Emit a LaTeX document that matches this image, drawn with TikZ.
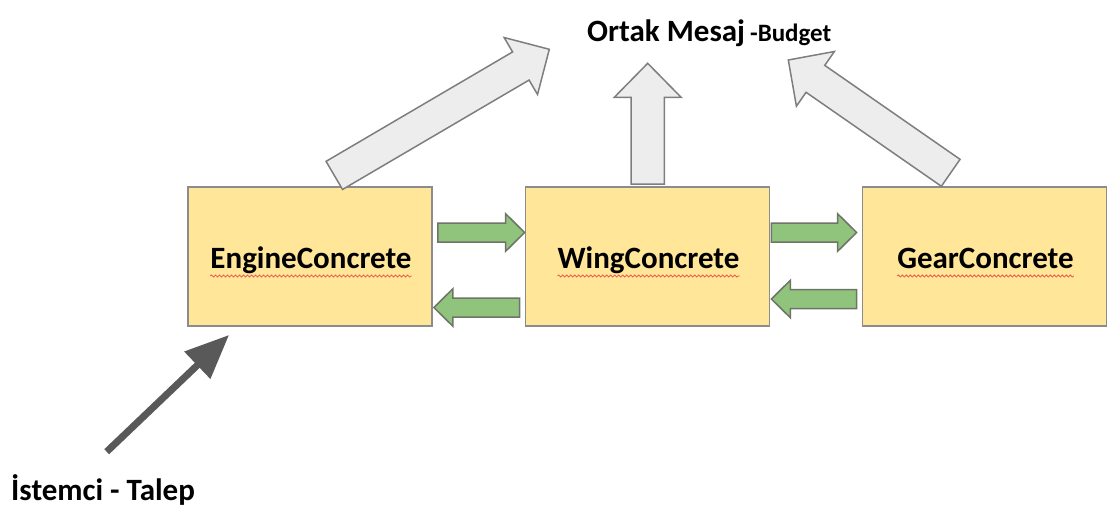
\documentclass[tikz,border=0pt]{standalone}
\usepackage{fontspec}
\setmainfont{Carlito}
\usetikzlibrary{arrows.meta,calc,decorations.pathmorphing}
\definecolor{Gold}{HTML}{FFE699}
\definecolor{Frame}{HTML}{8C8C8C}
\definecolor{Leaf}{HTML}{90C47C}
\definecolor{LeafDark}{HTML}{6E7468}
\definecolor{Mist}{HTML}{EDEDED}
\definecolor{Slate}{HTML}{595959}
\definecolor{Wave}{HTML}{E8413C}
\tikzset{unit/.style={draw=Frame,fill=Gold,line width=1.8pt,minimum width=244pt,minimum height=139pt,inner sep=0pt},unitlabel/.style={font=\fontsize{31}{37}\selectfont\bfseries,inner sep=0pt,anchor=base},heading/.style={font=\fontsize{31}{37}\selectfont\bfseries,inner sep=0pt,anchor=base west},shared/.style={draw=Frame!90!black,fill=Mist,line width=1.5pt},pass/.style={draw=LeafDark,fill=Leaf,line width=1.5pt},request/.style={draw=Slate,line width=7pt,-{Triangle[length=44pt,width=36pt]}},typo/.style={draw=Wave,line width=.6pt,decorate,decoration={snake,amplitude=1.1pt,segment length=4pt}}}
% block arrow: [style]{tail}{tip}{half shaft}{half head}{head length}
\newcommand{\blockarrow}[6][]{%
  \coordinate (hb) at ($(#3)!#6!(#2)$);
  \draw[#1]($(#2)!#4!90:(#3)$)--($(hb)!#4!90:(#3)$)--($(hb)!#5!90:(#3)$)--(#3)--($(hb)!#5!-90:(#3)$)--($(hb)!#4!-90:(#3)$)--($(#2)!#4!-90:(#3)$)--cycle;}
\begin{document}
\begin{tikzpicture}[x=1pt,y=-1pt]
  \useasboundingbox (0,0) rectangle (1115,515);
  \node[unit](engine) at (310,256.5){};
  \node[unit](wing) at (647.5,256.5){};
  \node[unit](gear) at (984.5,256.5){};
  \foreach \b/\t in {engine/EngineConcrete,wing/WingConcrete,gear/GearConcrete}{
    \node[unitlabel](\b-label) at ($(\b.center)+(1,11.5)$){\t};
    \draw[typo]([yshift=-8pt]\b-label.base west)--([yshift=-8pt]\b-label.base east);}
  \node[heading](message) at (587,41.5){Ortak Mesaj\hspace{5pt}{\fontsize{25}{30}\selectfont -Budget}};
  \node[heading](client) at (11,500){İstemci - Talep};
  % up to the shared message
  \coordinate(engine-up) at ($(engine.north)+(24.3,-10.7)$);
  \coordinate(wing-up) at ($(wing.north)+(0.2,-2)$);
  \coordinate(gear-up) at ($(gear.north)+(-33.8,-13.3)$);
  \coordinate(msg-left) at (549.3,49.3);
  \coordinate(msg-mid) at (647.7,63.3);
  \coordinate(msg-right) at (788.3,60);
  \blockarrow[shared]{engine-up}{msg-left}{16.3pt}{33pt}{33pt}
  \blockarrow[shared]{wing-up}{msg-mid}{16.6pt}{33.4pt}{34pt}
  \blockarrow[shared]{gear-up}{msg-right}{16.4pt}{33.3pt}{33pt}
  % between the classes
  \coordinate(e1) at ($(engine.east)+(5,-24)$);\coordinate(w1) at ($(wing.west)+(0,-24)$);
  \coordinate(w2) at ($(wing.west)+(-5,51)$);\coordinate(e2) at ($(engine.east)+(1,51)$);
  \coordinate(w3) at ($(wing.east)+(1,-24)$);\coordinate(g3) at ($(gear.west)+(-5,-24)$);
  \coordinate(g4) at ($(gear.west)+(-5,42.5)$);\coordinate(w4) at ($(wing.east)+(1,42.5)$);
  \blockarrow[pass]{e1}{w1}{9.5pt}{18.8pt}{19pt}
  \blockarrow[pass]{w2}{e2}{9.5pt}{18.8pt}{19pt}
  \blockarrow[pass]{w3}{g3}{9.5pt}{18.8pt}{19pt}
  \blockarrow[pass]{g4}{w4}{9.5pt}{18.8pt}{19pt}
  % client request
  \coordinate(ask) at (106.7,451.7);
  \coordinate(hit) at ($(engine.south west)+(42,8)$);
  \draw[request](ask)--(hit);
\end{tikzpicture}
\end{document}
